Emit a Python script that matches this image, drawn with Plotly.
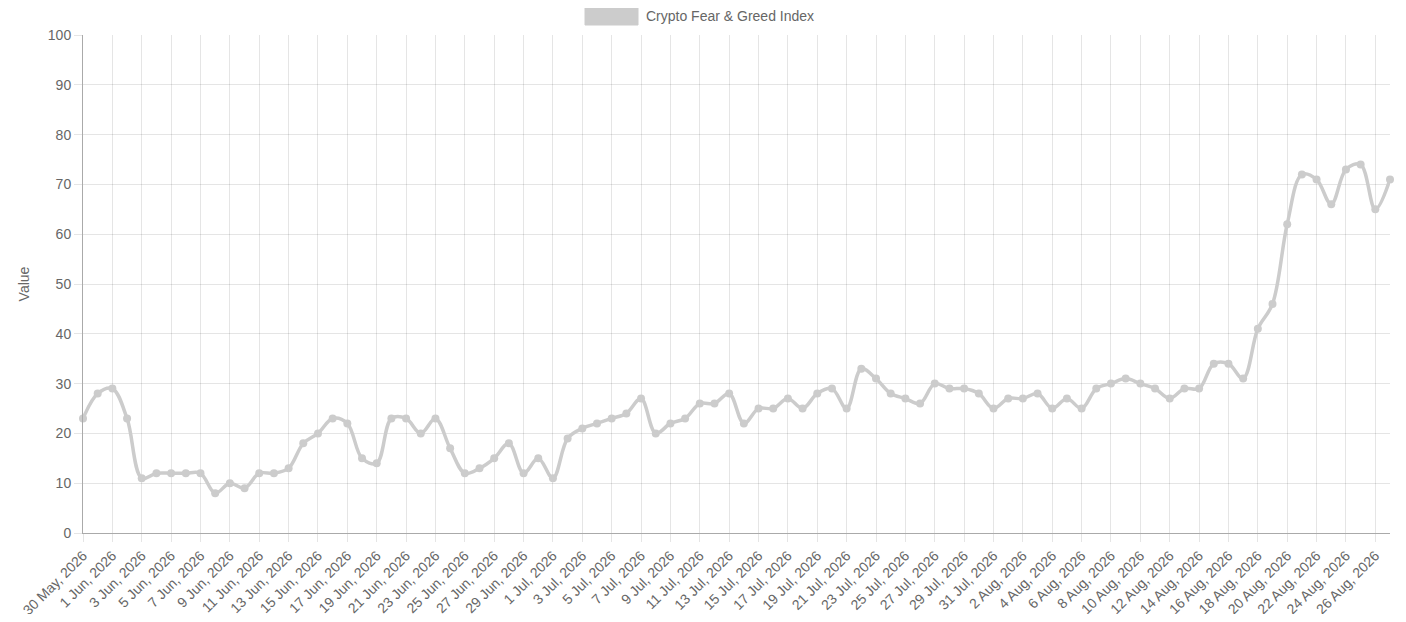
import pandas as pd
import plotly.graph_objects as go

# Data
start_date = "2026-05-30"
values = [23, 28, 29, 23, 11, 12, 12, 12, 12, 8,
          10, 9, 12, 12, 13, 18, 20, 23, 22, 15,
          14, 23, 23, 20, 23, 17, 12, 13, 15, 18,
          12, 15, 11, 19, 21, 22, 23, 24, 27, 20,
          22, 23, 26, 26, 28, 22, 25, 25, 27, 25,
          28, 29, 25, 33, 31, 28, 27, 26, 30, 29,
          29, 28, 25, 27, 27, 28, 25, 27, 25, 29,
          30, 31, 30, 29, 27, 29, 29, 34, 34, 31,
          41, 46, 62, 72, 71, 66, 73, 74, 65, 71]
series_name = "Crypto Fear & Greed Index"
y_title = "Value"
y_ticks = [0, 10, 20, 30, 40, 50, 60, 70, 80, 90, 100]

dates = pd.date_range(start_date, periods=len(values), freq="D")
tick_dates = dates[::2]
tick_labels = [f"{d.day} {d.strftime('%b')}, {d.year}" for d in tick_dates]

# page body has an 8px margin; figure sized to fit inside the window
OFF = 8
W, H = 1390, 606
ml, mr, mt, mb = 75, 8, 27, 81
pw, ph = W - ml - mr, H - mt - mb

def px_x(p):  # page pixel -> paper
    return (p - OFF - ml) / pw

def px_y(p):
    return (H - mb - (p - OFF)) / ph

line_color = "rgb(204,204,204)"
grid_color = "rgba(0,0,0,0.1)"
axis_color = "rgb(170,170,170)"
font_family = "Liberation Sans, Arial, Helvetica, sans-serif"

fig = go.Figure()
fig.add_trace(go.Scatter(
    x=dates, y=values, mode="lines+markers", name=series_name,
    line=dict(color=line_color, width=3.5, shape="spline", smoothing=1.0),
    marker=dict(color=line_color, size=8),
    cliponaxis=False, showlegend=False,
))

fig.update_layout(
    width=W, height=H,
    margin=dict(l=ml, r=mr, t=mt, b=mb, autoexpand=False),
    paper_bgcolor="white", plot_bgcolor="white",
    font=dict(family=font_family, size=14, color="#666"),
    xaxis=dict(
        range=[dates[0], dates[-1]],
        tickvals=list(tick_dates), ticktext=tick_labels,
        tickangle=-45, showgrid=True, gridcolor=grid_color, gridwidth=1,
        ticks="outside", ticklen=8, tickcolor=grid_color,
        showline=True, linecolor=axis_color, linewidth=1,
        tickfont=dict(size=14, color="#666"), zeroline=False,
    ),
    yaxis=dict(
        range=[0, 100], tickvals=y_ticks,
        showgrid=True, gridcolor=grid_color, gridwidth=1,
        ticks="outside", ticklen=8, tickcolor=grid_color,
        showline=True, linecolor=axis_color, linewidth=1,
        zeroline=False, tickfont=dict(size=14, color="#666"),
        title=dict(text=y_title, font=dict(size=14, color="#666"), standoff=14),
    ),
    shapes=[dict(
        type="rect", xref="paper", yref="paper",
        x0=px_x(585), x1=px_x(638), y0=px_y(25), y1=px_y(7),
        fillcolor=line_color, line=dict(color=line_color, width=1),
    )],
    annotations=[dict(
        text=series_name, xref="paper", yref="paper",
        x=px_x(644), y=px_y(16), xanchor="left", yanchor="middle",
        showarrow=False, font=dict(size=14, color="#666"),
    )],
)

fig.write_html("out.html")
